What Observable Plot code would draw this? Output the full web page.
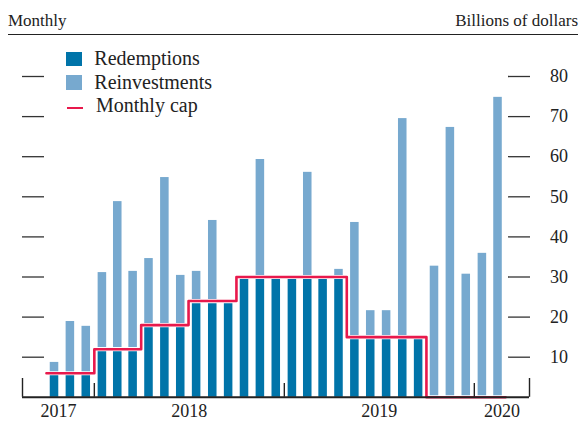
<!DOCTYPE html>
<html>
<head>
<meta charset="utf-8">
<script src="https://cdn.jsdelivr.net/npm/d3@7"></script>
<script src="https://cdn.jsdelivr.net/npm/@observablehq/plot@0.6"></script>
<style>
  html, body { margin: 0; padding: 0; background: #fff; }
  #wrap { position: relative; width: 581px; height: 425px; font-family: "Liberation Serif", "Times New Roman", serif; color: #222; }
  #wrap svg { position: absolute; left: 0; top: 0; }
  .abs { position: absolute; white-space: nowrap; line-height: 1; }
  .hdr { font-size: 17px; top: 11.8px; }
  .leg { font-size: 20px; left: 94.3px; }
  .sw { position: absolute; }
</style>
</head>
<body>
<div id="wrap"></div>
<script>
// ---- data ----
const months = ["2017-10","2017-11","2017-12",
  "2018-01","2018-02","2018-03","2018-04","2018-05","2018-06","2018-07","2018-08","2018-09","2018-10","2018-11","2018-12",
  "2019-01","2019-02","2019-03","2019-04","2019-05","2019-06","2019-07","2019-08","2019-09","2019-10","2019-11","2019-12",
  "2020-01","2020-02"];
const redemptions = [6,6,6, 12,12,12,18,18,18,24,24,24,30,30,30, 30,30,30,30,15,15,15,15,15,0,0,0, 0,0];
const reinvestments = [2.7,12.9,11.7, 19.1,36.8,19.4,16.6,36.8,12.4,7.4,20.1,0,0,29.3,0, 0,26.1,0,1.9,28.6,6.6,6.6,54.5,0,32.7,67.3,30.7, 35.9,74.8];
const monthlyCap = [6,6,6, 12,12,12,18,18,18,24,24,24,30,30,30, 30,30,30,30,15,15,15,15,15,0,0,0, 0,0];
const yTicks = [10,20,30,40,50,60,70,80];
const yearLabels = ["2017","2018","2019","2020"];
const xDomainStrings = ["2017-08-16","2020-04-16"];

const seriesNames = ["Redemptions","Reinvestments"];
const colors = { Redemptions: "#0074a9", Reinvestments: "#77a9cf", cap: "#e8194c" };

// ---- helpers ----
const DAY = 864e5;
const parseMonth = s => { const [y, m] = s.split("-").map(Number); return new Date(Date.UTC(y, m - 1, 1)); };
const parseDay = s => { const [y, m, d] = s.split("-").map(Number); return new Date(Date.UTC(y, m - 1, d)); };
const xDomain = xDomainStrings.map(parseDay);
const starts = months.map(parseMonth);
const nextStart = d => new Date(Date.UTC(d.getUTCFullYear(), d.getUTCMonth() + 1, 1));
const halfBar = 8.2 * DAY;

const bars = [];
months.forEach((m, i) => {
  const s = starts[i], e = nextStart(s);
  const mid = new Date((+s + +e) / 2);
  bars.push({ x1: new Date(+mid - halfBar), x2: new Date(+mid + halfBar), y1: 0, y2: redemptions[i], series: seriesNames[0] });
  bars.push({ x1: new Date(+mid - halfBar), x2: new Date(+mid + halfBar), y1: redemptions[i], y2: redemptions[i] + reinvestments[i], series: seriesNames[1] });
});

const capPts = months.map((m, i) => ({ date: starts[i], cap: monthlyCap[i] }));
capPts.push({ date: nextStart(starts[starts.length - 1]), cap: monthlyCap[monthlyCap.length - 1] });

const yearStarts = yearLabels.slice(1).map(y => new Date(Date.UTC(+y, 0, 1)));
const yearLabelPts = yearLabels.map(y => {
  const a = Math.max(+new Date(Date.UTC(+y, 0, 1)), +xDomain[0]);
  const b = Math.min(+new Date(Date.UTC(+y + 1, 0, 1)), +xDomain[1]);
  return { x: new Date((a + b) / 2), label: y };
});

const plot = Plot.plot({
  width: 581,
  height: 425,
  marginTop: 76,
  marginBottom: 28.2,
  marginLeft: 22,
  marginRight: 52,
  x: { type: "utc", domain: xDomain, axis: null },
  y: { domain: [0, 80], axis: null },
  style: { fontFamily: "Liberation Serif, Times New Roman, serif", fontSize: "18px", color: "#222", background: "transparent" },
  marks: [
    Plot.rect(bars, { x1: "x1", x2: "x2", y1: "y1", y2: "y2", fill: d => colors[d.series] }),
    Plot.line(capPts, { x: "date", y: "cap", curve: "step-after", stroke: "white", strokeWidth: 4.2 }),
    Plot.line(capPts, { x: "date", y: "cap", curve: "step-after", stroke: colors.cap, strokeWidth: 2.6 }),
    Plot.ruleY([0], { stroke: "#222", strokeWidth: 2 }),
    Plot.ruleX(xDomain, { stroke: "#222", strokeWidth: 1.4, insetTop: 302 }),
    Plot.ruleX(yearStarts, { stroke: "#222", strokeWidth: 1.4, insetTop: 307 }),
    Plot.ruleY(yTicks, { stroke: "#333", strokeWidth: 1.3, insetRight: 485 }),
    Plot.ruleY(yTicks, { stroke: "#333", strokeWidth: 1.3, insetLeft: 485, dx: 1 }),
    Plot.text(yTicks, { y: d => d, text: d => String(d), frameAnchor: "right", textAnchor: "start", dx: 20.5, lineAnchor: "middle", fontSize: 18, fill: "#222" }),
    Plot.text(yearLabelPts, { x: "x", y: () => 0, text: "label", dy: 20, lineAnchor: "bottom", fontSize: 18, fill: "#222" })
  ]
});

const wrap = document.getElementById("wrap");
wrap.appendChild(plot);

function add(html) { wrap.insertAdjacentHTML("beforeend", html); }
// header
add(`<div class="abs hdr" style="left:8px;">Monthly</div>`);
add(`<div class="abs hdr" style="right:3px;">Billions of dollars</div>`);
add(`<div class="sw" style="left:8px;top:33.6px;width:570px;height:1.4px;background:#222;"></div>`);
// legend
add(`<div class="sw" style="left:66px;top:51.7px;width:15.5px;height:14.5px;background:${colors.Redemptions};"></div>`);
add(`<div class="sw" style="left:66px;top:75.3px;width:15.5px;height:14.5px;background:${colors.Reinvestments};"></div>`);
add(`<div class="sw" style="left:66.5px;top:106.5px;width:16px;height:2.5px;background:${colors.cap};"></div>`);
add(`<div class="abs leg" style="top:48.3px;">${seriesNames[0]}</div>`);
add(`<div class="abs leg" style="top:71.6px;">${seriesNames[1]}</div>`);
add(`<div class="abs leg" style="top:95px;left:96px;">Monthly cap</div>`);
</script>
</body>
</html>
